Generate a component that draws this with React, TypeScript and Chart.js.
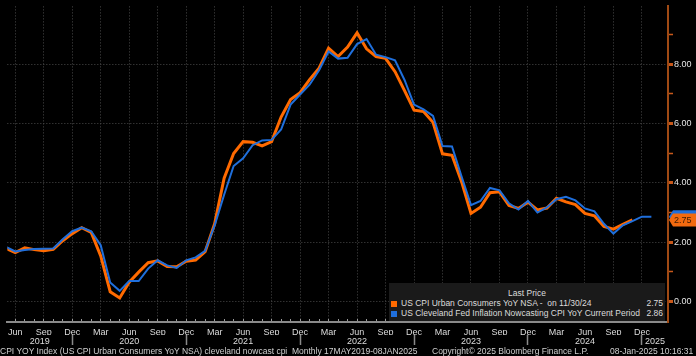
import React, { useEffect, useRef } from "react";
import { Chart, registerables } from "chart.js";

Chart.register(...registerables);

// ---------- data ----------
const MONTH_NAMES = ["Jan", "Feb", "Mar", "Apr", "May", "Jun", "Jul", "Aug", "Sep", "Oct", "Nov", "Dec"];
const FIRST_MONTH = 4; // index 0 = May 2019
const QUARTER_LABEL_MONTHS = [2, 5, 8, 11]; // Mar, Jun, Sep, Dec
const YEAR_LABELS = ["2019", "2020", "2021", "2022", "2023", "2024", "2025"];

// US CPI Urban Consumers YoY NSA, May 2019 .. Nov 2024
const cpiYoY = [
  1.79, 1.65, 1.81, 1.75, 1.71, 1.76, 2.05, 2.29,
  2.49, 2.33, 1.54, 0.33, 0.12, 0.65, 0.99, 1.31, 1.37, 1.18, 1.17, 1.36,
  1.40, 1.68, 2.62, 4.16, 4.99, 5.39, 5.37, 5.25, 5.39, 6.22, 6.81, 7.04,
  7.48, 7.87, 8.54, 8.26, 8.58, 9.06, 8.52, 8.26, 8.20, 7.75, 7.11, 6.45,
  6.41, 6.04, 4.98, 4.93, 4.05, 2.97, 3.18, 3.67, 3.70, 3.24, 3.14, 3.35,
  3.09, 3.15, 3.48, 3.36, 3.27, 2.97, 2.89, 2.53, 2.44, 2.60, 2.75,
];

// Cleveland Fed Inflation Nowcasting CPI YoY, May 2019 .. Jan 2025
const nowcastYoY = [
  1.85, 1.69, 1.74, 1.77, 1.78, 1.79, 2.10, 2.37,
  2.49, 2.37, 1.90, 0.64, 0.36, 0.69, 0.69, 1.11, 1.39, 1.22, 1.13, 1.39,
  1.49, 1.71, 2.57, 3.60, 4.57, 4.83, 5.27, 5.43, 5.45, 5.80, 6.64, 6.98,
  7.31, 7.80, 8.43, 8.19, 8.22, 8.68, 8.85, 8.32, 8.24, 8.13, 7.47, 6.64,
  6.48, 6.26, 5.24, 5.23, 4.22, 3.25, 3.39, 3.83, 3.75, 3.31, 3.10, 3.39,
  3.00, 3.17, 3.45, 3.53, 3.41, 3.14, 3.04, 2.62, 2.29, 2.57, 2.71, 2.86,
  2.86,
];

const Y_TICKS = [0, 1, 2, 3, 4, 5, 6, 7, 8, 9];

const SERIES_NAMES = [
  "US CPI Urban Consumers YoY NSA -  on 11/30/24",
  "US Cleveland Fed Inflation Nowcasting CPI YoY Current Period",
];
const FOOTER_LEFT = "CPI YOY Index (US CPI Urban Consumers YoY NSA) cleveland nowcast cpi  Monthly 17MAY2019-08JAN2025";
const FOOTER_MID = "Copyright\u00A9 2025 Bloomberg Finance L.P.";
const FOOTER_RIGHT = "08-Jan-2025 10:16:31";

// ---------- style ----------
const ORANGE = "#ff6a00";
const BLUE = "#1f6fdc";
const GRID = "#4a4a4a";
const FONT = "'Liberation Sans', Arial, sans-serif";
const X_MIN = 0.1667;
const X_MAX = 69.75;
const Y_MIN = -0.69;
const Y_MAX = 9.95;

const monthOf = (i: number) => (((FIRST_MONTH + i) % 12) + 12) % 12;

const monthTicks: number[] = [];
for (let i = Math.ceil(X_MIN); i <= Math.floor(X_MAX); i++) monthTicks.push(i);

// year separators (December points) and centred year labels
const separators = monthTicks.filter((i) => monthOf(i) === 11);
const bounds = [X_MIN, ...separators, X_MAX];
const yearTicks: { v: number; label: string }[] = [];
for (let k = 0; k < bounds.length - 1; k++) {
  yearTicks.push({ v: (bounds[k] + bounds[k + 1]) / 2, label: YEAR_LABELS[k] });
}
separators.forEach((s) => yearTicks.push({ v: s, label: "" }));
yearTicks.sort((a, b) => a.v - b.v);

const tagPlugin = {
  id: "lastTags",
  afterDraw(chart: any) {
    const ys = chart.scales.y;
    const ctx = chart.ctx;
    const x0 = ys.left + 1;
    const W = chart.width;
    const h = 13;
    const drawTag = (val: number, fill: string, text: string | null) => {
      const py = ys.getPixelForValue(val);
      ctx.save();
      ctx.fillStyle = fill;
      ctx.beginPath();
      ctx.moveTo(x0, py);
      ctx.lineTo(x0 + 4, py - h / 2);
      ctx.lineTo(W, py - h / 2);
      ctx.lineTo(W, py + h / 2);
      ctx.lineTo(x0 + 4, py + h / 2);
      ctx.closePath();
      ctx.fill();
      if (text) {
        ctx.fillStyle = "#3a1a05";
        ctx.font = `9px ${FONT}`;
        ctx.textBaseline = "middle";
        ctx.textAlign = "left";
        ctx.fillText(text, x0 + 5, py + 0.5);
      }
      ctx.restore();
    };
    const lastNow = nowcastYoY[nowcastYoY.length - 1];
    const lastCpi = cpiYoY[cpiYoY.length - 1];
    drawTag(lastNow, BLUE, null);
    drawTag(lastCpi, "#f26a10", lastCpi.toFixed(2));
  },
};

export default function App() {
  const ref = useRef<HTMLCanvasElement | null>(null);

  useEffect(() => {
    document.body.style.margin = "0";
    document.body.style.background = "#000";
    const canvas = ref.current;
    if (!canvas) return;
    const chart = new Chart(canvas, {
      type: "line",
      data: {
        datasets: [
          {
            label: SERIES_NAMES[0],
            data: cpiYoY.map((v, i) => ({ x: i, y: v })),
            borderColor: ORANGE,
            borderWidth: 3,
            pointRadius: 0,
            tension: 0,
            order: 1,
          },
          {
            label: SERIES_NAMES[1],
            data: nowcastYoY.map((v, i) => ({ x: i, y: v })),
            borderColor: BLUE,
            borderWidth: 2,
            pointRadius: 0,
            tension: 0,
            order: 0,
          },
        ],
      },
      options: {
        animation: false,
        responsive: false,
        maintainAspectRatio: false,
        layout: { padding: { left: 0, right: 0, top: 0, bottom: 9 } },
        plugins: { legend: { display: false }, tooltip: { enabled: false } },
        scales: {
          x: {
            type: "linear",
            position: "bottom",
            min: X_MIN,
            max: X_MAX,
            weight: 0,
            afterBuildTicks: (s: any) => {
              s.ticks = monthTicks.map((v) => ({ value: v }));
            },
            afterFit: (s: any) => {
              s.height = 13;
            },
            ticks: {
              autoSkip: false,
              maxRotation: 0,
              minRotation: 0,
              padding: 8,
              color: "#dcdcdc",
              font: { family: FONT, size: 9 },
              callback: (v: any) => {
                const m = monthOf(Number(v));
                return QUARTER_LABEL_MONTHS.includes(m) ? MONTH_NAMES[m] : "";
              },
            },
            grid: {
              color: (c: any) =>
                c.tick && QUARTER_LABEL_MONTHS.includes(monthOf(c.tick.value)) ? GRID : "transparent",
              lineWidth: 1,
              drawTicks: true,
              tickLength: -3,
              tickColor: "#9a9a9a",
              tickWidth: 1,
              tickBorderDash: [],
            },
            border: { display: true, color: "#8a8a8a", width: 2, dash: [1, 2] },
          },
          x2: {
            type: "linear",
            axis: "x",
            position: "bottom",
            min: X_MIN,
            max: X_MAX,
            weight: 1,
            afterBuildTicks: (s: any) => {
              s.ticks = yearTicks.map((t) => ({ value: t.v }));
            },
            afterFit: (s: any) => {
              s.height = 12;
            },
            ticks: {
              autoSkip: false,
              maxRotation: 0,
              minRotation: 0,
              padding: -9,
              color: "#dcdcdc",
              font: { family: FONT, size: 9 },
              callback: (v: any, i: number) => (yearTicks[i] ? yearTicks[i].label : ""),
            },
            grid: {
              drawOnChartArea: false,
              drawTicks: true,
              tickLength: 10,
              tickColor: (c: any) =>
                c.tick && yearTicks[c.index] && yearTicks[c.index].label === "" ? "#8a8a8a" : "transparent",
              tickWidth: 1.5,
            },
            border: { display: false },
          },
          y: {
            type: "linear",
            position: "right",
            min: Y_MIN,
            max: Y_MAX,
            afterBuildTicks: (s: any) => {
              s.ticks = Y_TICKS.map((v) => ({ value: v }));
            },
            afterFit: (s: any) => {
              s.width = 28;
            },
            ticks: {
              padding: 1,
              color: "#e4e4e4",
              font: { family: FONT, size: 9 },
              callback: (v: any) => (Number(v) % 2 === 0 ? Number(v).toFixed(2) : ""),
            },
            grid: {
              color: (c: any) => (c.tick && c.tick.value % 2 === 0 ? GRID : "transparent"),
              lineWidth: 1,
              drawTicks: true,
              tickLength: 5,
              tickColor: "#c8581a",
              tickWidth: (c: any) => (c.tick && c.tick.value % 2 === 0 ? 3 : 1.5),
              tickBorderDash: [],
            },
            border: { display: true, color: "#a04a14", width: 2, dash: [1, 2] },
          },
        },
      } as any,
      plugins: [tagPlugin],
    });
    return () => chart.destroy();
  }, []);

  const lastCpi = cpiYoY[cpiYoY.length - 1].toFixed(2);
  const lastNow = nowcastYoY[nowcastYoY.length - 1].toFixed(2);
  const txt: React.CSSProperties = {
    position: "absolute",
    fontFamily: FONT,
    fontSize: "8.5px",
    lineHeight: "10px",
    color: "#dcdcdc",
    whiteSpace: "pre",
  };

  return (
    <div style={{ position: "relative", width: 696, height: 356, background: "#000", overflow: "hidden" }}>
      <canvas ref={ref} width={696} height={356} style={{ display: "block", width: 696, height: 356 }} />
      <div
        style={{
          position: "absolute",
          left: 389,
          top: 283,
          width: 276,
          height: 38,
          background: "#1a1a1a",
        }}
      >
        <div style={{ ...txt, left: 0, width: 276, top: 5, textAlign: "center" }}>Last Price</div>
        {[ORANGE, BLUE].map((c, k) => (
          <React.Fragment key={k}>
            <div style={{ position: "absolute", left: 2, top: 18 + k * 10, width: 6, height: 6, background: c }} />
            <div style={{ ...txt, left: 12, top: 15 + k * 10 }}>{SERIES_NAMES[k]}</div>
            <div style={{ ...txt, right: 2, top: 15 + k * 10, textAlign: "right" }}>{k === 0 ? lastCpi : lastNow}</div>
          </React.Fragment>
        ))}
      </div>
      <div style={{ ...txt, left: 0, top: 346, color: "#d0d0d0" }}>{FOOTER_LEFT}</div>
      <div style={{ ...txt, left: 432, top: 346, color: "#d0d0d0" }}>{FOOTER_MID}</div>
      <div style={{ ...txt, left: 610, top: 346, color: "#d0d0d0" }}>{FOOTER_RIGHT}</div>
    </div>
  );
}
